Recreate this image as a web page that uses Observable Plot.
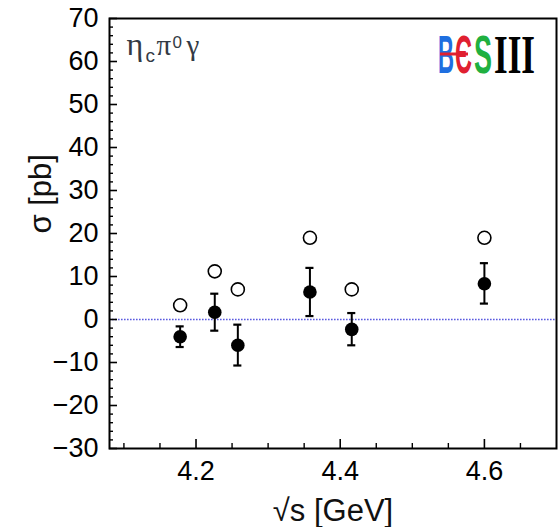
<!DOCTYPE html>
<html><head><meta charset="utf-8">
<script src="https://cdn.jsdelivr.net/npm/d3@7"></script>
<script src="https://cdn.jsdelivr.net/npm/@observablehq/plot@0.6"></script>
<style>
body{margin:0;background:#fff}
#wrap{position:relative;width:560px;height:527px}
</style></head><body><div id="wrap"></div>
<script>
// Data
const energies    = [4.178, 4.226, 4.258, 4.358, 4.416, 4.600];   // sqrt(s) [GeV]
const sigma       = [-4.0, 1.7, -6.0, 6.4, -2.3, 8.3];            // measured cross section [pb]
const errLow      = [-6.4, -2.6, -10.7, 0.8, -6.0, 3.7];          // lower end of error bar
const errHigh     = [-1.6, 6.0, -1.2, 12.0, 1.5, 13.1];           // upper end of error bar
const upperLimit  = [3.3, 11.2, 7.0, 19.0, 7.0, 19.0];            // open circles (upper limits)

const xTicks = [4.2, 4.4, 4.6];
const xMinorTicks = [4.10, 4.15, 4.25, 4.30, 4.35, 4.45, 4.50, 4.55, 4.65];
const yTicks = [-30, -20, -10, 0, 10, 20, 30, 40, 50, 60, 70];
const yMinorTicks = d3.range(-28, 70, 2).filter(v => v % 10 !== 0);

const data = energies.map((x, i) => ({x, y: sigma[i], lo: errLow[i], hi: errHigh[i], ul: upperLimit[i]}));
const capHalf = 0.0056;
const fontSans = "'Liberation Sans', Arial, Helvetica, sans-serif";
const fontSerif = "'Liberation Serif', 'DejaVu Serif', serif";
const labelColor = "#333a44";

const plot = Plot.plot({
  width: 560, height: 527,
  marginLeft: 109, marginRight: 4, marginTop: 18, marginBottom: 79,
  style: {fontFamily: fontSans, fontSize: "27px", color: "#000", background: "#fff"},
  x: {domain: [4.08, 4.70]},
  y: {domain: [-30, 70]},
  marks: [
    Plot.ruleY([0], {stroke: "#5a5ae0", strokeWidth: 1.4, strokeDasharray: "1.6,1.4"}),
    // inward ticks
    Plot.axisY(yMinorTicks, {tickSize: 4, dx: 4, fill: "none", strokeWidth: 1.4, label: null}),
    Plot.axisY(yTicks, {tickSize: 8, dx: 8, fill: "none", strokeWidth: 1.6, label: null}),
    Plot.axisX(xMinorTicks, {tickSize: 5, dy: -5, fill: "none", strokeWidth: 1.4, label: null}),
    Plot.axisX(xTicks, {tickSize: 9, dy: -9, fill: "none", strokeWidth: 1.6, label: null}),
    // tick labels
    Plot.axisY(yTicks, {tickSize: 0, tickPadding: 11, label: null, fontSize: 27}),
    Plot.axisX(xTicks, {tickSize: 0, tickPadding: 12, label: null, fontSize: 27}),
    // axis titles
    Plot.text(["σ [pb]"], {text: d => d, frameAnchor: "left", dx: -59, rotate: -90, lineAnchor: "bottom", fontSize: 31, fill: "#111"}),
    Plot.text(["√s [GeV]"], {text: d => d, frameAnchor: "bottom", dy: 72, lineAnchor: "bottom", fontSize: 31, fill: "#111"}),
    // in-frame label eta_c pi^0 gamma
    Plot.text(["η"], {text: d => d, frameAnchor: "top-left", textAnchor: "start", lineAnchor: "bottom", dx: 17, dy: 36, fontSize: 32, fontFamily: fontSerif, fill: labelColor}),
    Plot.text(["c"], {text: d => d, frameAnchor: "top-left", textAnchor: "start", lineAnchor: "bottom", dx: 36, dy: 43, fontSize: 19, fontFamily: fontSans, fill: labelColor}),
    Plot.text(["π"], {text: d => d, frameAnchor: "top-left", textAnchor: "start", lineAnchor: "bottom", dx: 47, dy: 36, fontSize: 29, fontFamily: fontSerif, fill: labelColor}),
    Plot.text(["0"], {text: d => d, frameAnchor: "top-left", textAnchor: "start", lineAnchor: "bottom", dx: 63, dy: 29, fontSize: 17, fontFamily: fontSans, fill: labelColor}),
    Plot.text(["γ"], {text: d => d, frameAnchor: "top-left", textAnchor: "start", lineAnchor: "bottom", dx: 77, dy: 36, fontSize: 29, fontFamily: fontSerif, fill: labelColor}),
    // error bars
    Plot.ruleX(data, {x: "x", y1: "lo", y2: "hi", strokeWidth: 2}),
    Plot.ruleY(data, {y: "hi", x1: d => d.x - capHalf, x2: d => d.x + capHalf, strokeWidth: 2.2}),
    Plot.ruleY(data, {y: "lo", x1: d => d.x - capHalf, x2: d => d.x + capHalf, strokeWidth: 2.2}),
    // points
    Plot.dot(data, {x: "x", y: "ul", r: 6.5, stroke: "#000", strokeWidth: 1.6, fill: "#fff"}),
    Plot.dot(data, {x: "x", y: "y", r: 6.8, fill: "#000", stroke: "none"}),
    Plot.frame({strokeWidth: 2})
  ]
});
document.getElementById("wrap").appendChild(plot);

// BESIII logo (decoration), letters horizontally compressed with a scale transform
const svg = d3.select(plot);
const logo = svg.append("g").attr("font-weight", "bold");
const letters = [
  {t: "B", x: 438, w: 16, c: "#1f6fe0", f: fontSans},
  {t: "Є", x: 455, w: 17, c: "#e02030", f: fontSans},
  {t: "S", x: 474, w: 18, c: "#20b040", f: fontSans},
  {t: "III", x: 494, w: 41, c: "#000", f: fontSerif}
];
letters.forEach(l => {
  const t = logo.append("text").text(l.t)
    .attr("text-anchor", "start")
    .attr("font-family", l.f).attr("font-size", 54)
    .attr("fill", l.c);
  const natural = t.node().getComputedTextLength() || l.w;
  t.attr("transform", `translate(${l.x},73) scale(${l.w / natural},1)`);
});
logo.append("line").attr("x1", 440).attr("x2", 468).attr("y1", 54).attr("y2", 54)
  .attr("stroke", "#e02030").attr("stroke-width", 3);
</script></body></html>
